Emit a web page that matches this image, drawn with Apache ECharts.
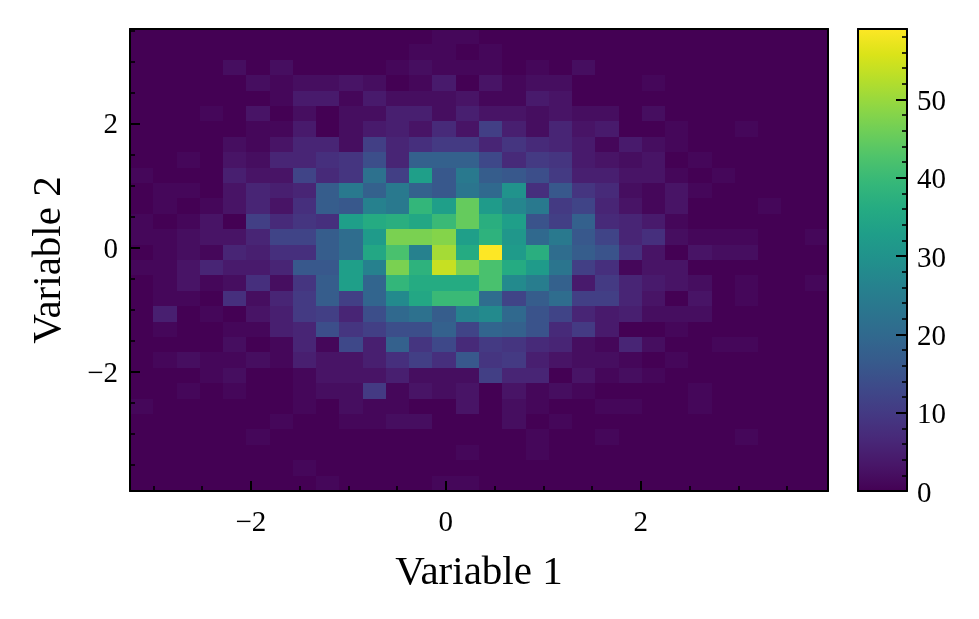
<!DOCTYPE html>
<html><head><meta charset="utf-8">
<script src="https://cdn.jsdelivr.net/npm/echarts@6/dist/echarts.min.js"></script>
<style>html,body{margin:0;padding:0;background:#fff}#c{width:979px;height:619px}</style>
</head><body><div id="c"></div>
<script>
const xTitle = 'Variable 1', yTitle = 'Variable 2';
const xRange = [-3.24, 3.92], yRange = [-3.92, 3.53];
const xMajor = [-2, 0, 2], yMajor = [-2, 0, 2];
const xMinor = [-3,-2.5,-1.5,-1,-0.5,0.5,1,1.5,2.5,3,3.5];
const yMinor = [-3.5,-3,-2.5,-1.5,-1,-0.5,0.5,1,1.5,2.5,3,3.5];
const cbMajor = [0,10,20,30,40,50];
const cbMinor = [2,4,6,8,12,14,16,18,22,24,26,28,32,34,36,38,42,44,46,48,52,54,56,58];
const cbMax = 59;
const viridis = ['#440154','#481668','#482878','#443983','#3e4989','#375a8c','#31688e','#2b758e','#26828e','#21918c','#1f9e89','#25ab82','#35b779','#4ec36b','#6ece58','#90d743','#b5de2b','#dae319','#fde725'];
// histogram counts, rows from top to bottom, columns left to right
const counts = [
[0,0,0,0,0,0,0,0,0,0,0,0,0,1,1,0,0,0,0,0,0,0,0,0,0,0,0,0,0,0],
[0,0,0,0,0,0,0,0,0,0,0,0,1,1,0,1,0,0,0,0,0,0,0,0,0,0,0,0,0,0],
[0,0,0,0,2,0,2,0,0,0,0,1,2,1,1,1,0,1,0,2,0,0,0,0,0,0,0,0,0,0],
[0,0,0,0,0,2,1,2,2,3,2,0,1,4,0,3,1,2,2,0,0,0,1,0,0,0,0,0,0,0],
[0,0,0,0,0,0,1,4,4,1,4,2,2,2,3,1,1,4,3,0,0,0,0,0,0,0,0,0,0,0],
[0,0,0,1,0,3,0,2,0,2,2,5,5,2,5,3,3,2,3,2,2,0,2,0,0,0,0,0,0,0],
[0,0,0,0,0,1,1,4,0,2,4,5,3,7,3,11,5,2,6,3,4,0,0,1,0,0,1,0,0,0],
[0,0,0,0,2,1,3,6,6,2,11,6,8,10,10,6,9,7,6,4,1,4,2,1,0,0,0,0,0,0],
[0,0,1,0,3,2,6,6,8,9,14,6,18,18,18,13,7,10,9,4,3,2,3,0,1,0,0,0,0,0],
[1,0,0,0,5,3,3,12,7,9,22,11,33,16,24,17,16,14,10,5,5,3,3,1,0,1,0,0,0,0],
[0,1,1,0,3,6,5,6,17,24,18,24,18,16,23,20,30,8,16,9,7,2,1,3,1,0,0,0,0,0],
[0,1,0,1,3,6,3,8,17,16,26,24,39,33,45,32,27,24,10,12,6,3,1,3,0,0,0,1,0,0],
[1,0,1,3,0,11,7,9,8,33,36,37,35,40,45,37,33,15,11,18,7,6,4,1,0,0,0,0,0,0],
[1,1,2,3,3,6,12,12,17,21,32,47,47,48,33,38,31,20,24,16,12,6,8,2,1,1,1,0,0,1],
[0,1,2,1,6,5,8,8,17,21,35,42,26,51,36,59,32,37,21,17,15,8,3,0,3,2,2,0,0,0],
[1,1,3,6,4,4,6,16,16,33,26,47,38,54,47,42,36,32,23,11,8,1,3,3,0,0,0,0,0,0],
[0,1,3,1,2,8,2,9,17,33,19,39,36,36,36,42,28,25,18,4,10,6,4,3,2,0,1,0,0,1],
[0,1,1,0,8,2,6,10,17,11,19,28,35,40,40,21,12,17,21,11,11,6,3,0,3,0,1,0,0,0],
[0,5,0,1,0,3,5,10,11,6,14,20,22,17,26,28,20,15,12,6,4,5,2,2,2,0,0,0,0,0],
[0,1,0,0,1,1,5,6,14,9,11,14,14,18,12,19,18,15,7,10,4,0,0,1,0,0,0,0,0,0],
[0,0,0,0,2,0,1,6,1,13,5,18,9,13,7,10,9,7,6,2,1,6,2,0,0,1,1,0,0,0],
[0,1,2,1,1,2,1,5,3,3,5,8,11,8,16,9,10,5,3,2,2,1,0,1,0,0,0,0,0,0],
[0,0,0,1,2,0,0,1,3,3,3,5,2,2,2,11,6,6,0,3,1,2,1,0,0,0,0,0,0,0],
[0,0,1,0,1,0,0,1,2,2,10,1,3,2,3,0,3,1,2,1,0,0,0,0,1,0,0,0,0,0],
[1,0,0,0,0,0,0,1,0,2,1,1,0,0,3,0,2,1,0,0,1,1,0,0,1,0,0,0,0,0],
[0,0,0,0,0,0,1,0,0,1,1,2,2,0,0,0,2,0,1,0,0,0,0,0,0,0,0,0,0,0],
[0,0,0,0,0,1,0,0,0,0,0,0,0,0,0,0,0,1,0,0,1,0,0,0,0,0,1,0,0,0],
[0,0,0,0,0,0,0,0,0,0,0,0,0,0,1,0,0,1,0,0,0,0,0,0,0,0,0,0,0,0],
[0,0,0,0,0,0,0,1,0,0,0,0,0,0,0,0,0,0,0,0,0,0,0,0,0,0,0,0,0,0],
[0,0,0,0,0,0,0,0,1,0,0,0,0,1,1,0,0,0,0,0,0,0,0,0,0,0,0,0,0,0]
];

const nRows = counts.length;
const cells = [];
counts.forEach((row, r) => row.forEach((v, c) => cells.push([c, nRows - 1 - r, v])));
const colBins = counts[0].map((_, i) => String(i));
const rowBins = counts.map((_, i) => String(i));

const FONT = '"Liberation Serif", serif';
const signed = v => String(v).replace('-', '\u2212');
const spine = {show: true, onZero: false, lineStyle: {color: '#000', width: 2}};
const noLabel = {show: false};
const tickStyle = {color: '#000', width: 1.6};
const majorStyle = {color: '#000', width: 2};

function valueAxis(range, position, gridIndex, extra) {
  return Object.assign({type: 'value', min: range[0], max: range[1], position, gridIndex,
    splitLine: {show: false}, axisLine: {show: false, onZero: false}, z: 6}, extra);
}
function spineAxis(position, gridIndex, data) {
  return {type: 'category', data, gridIndex, position, boundaryGap: true, axisLine: spine,
    axisTick: {show: false}, axisLabel: noLabel, splitLine: {show: false}, z: 6};
}
function renderCell(params, api) {
  const c = api.coord([api.value(0), api.value(1)]);
  const s = api.size([1, 1]);
  const x0 = Math.round(c[0] - s[0] / 2), x1 = Math.round(c[0] + s[0] / 2);
  const y0 = Math.round(c[1] - s[1] / 2), y1 = Math.round(c[1] + s[1] / 2);
  return {type: 'rect', shape: {x: x0, y: y0, width: x1 - x0, height: y1 - y0},
    style: {fill: api.visual('color')}};
}

const option = {
  animation: false,
  backgroundColor: '#fff',
  textStyle: {fontFamily: FONT},
  grid: [
    {left: 130, top: 29, width: 698, height: 462, show: false},
    {left: 858, top: 29, width: 49, height: 462, show: true, borderWidth: 0,
      backgroundColor: {type: 'linear', x: 0, y: 1, x2: 0, y2: 0,
        colorStops: viridis.map((color, i) => ({offset: i / (viridis.length - 1), color}))}}
  ],
  xAxis: [
    spineAxis('top', 0, colBins),
    valueAxis(xRange, 'bottom', 0, {
      axisLine: spine,
      axisTick: {show: true, inside: true, length: 10, lineStyle: majorStyle, customValues: xMajor},
      axisLabel: {show: true, customValues: xMajor, formatter: signed, color: '#000', fontFamily: FONT, fontSize: 29, margin: 18},
      name: xTitle, nameLocation: 'middle', nameGap: 62,
      nameTextStyle: {fontFamily: FONT, fontSize: 41, color: '#000'}}),
    valueAxis(xRange, 'bottom', 0, {
      axisTick: {show: true, inside: true, length: 5, lineStyle: tickStyle, customValues: xMinor},
      axisLabel: noLabel}),
    spineAxis('top', 1, ['a']),
    spineAxis('bottom', 1, ['a'])
  ],
  yAxis: [
    spineAxis('right', 0, rowBins),
    valueAxis(yRange, 'left', 0, {
      axisLine: spine,
      axisTick: {show: true, inside: true, length: 10, lineStyle: majorStyle, customValues: yMajor},
      axisLabel: {show: true, customValues: yMajor, formatter: signed, color: '#000', fontFamily: FONT, fontSize: 29, margin: 12, verticalAlign: 'top', lineHeight: 4},
      name: yTitle, nameLocation: 'middle', nameGap: 60, nameRotate: 90,
      nameTextStyle: {fontFamily: FONT, fontSize: 41, color: '#000'}}),
    valueAxis(yRange, 'left', 0, {
      axisTick: {show: true, inside: true, length: 5, lineStyle: tickStyle, customValues: yMinor},
      axisLabel: noLabel}),
    valueAxis([0, cbMax], 'right', 1, {
      axisLine: spine,
      axisTick: {show: true, inside: true, length: 11, lineStyle: majorStyle, customValues: cbMajor},
      axisLabel: {show: true, customValues: cbMajor, color: '#000', fontFamily: FONT, fontSize: 29, margin: 10, verticalAlign: 'top', lineHeight: 6}}),
    valueAxis([0, cbMax], 'right', 1, {
      axisTick: {show: true, inside: true, length: 5, lineStyle: tickStyle, customValues: cbMinor},
      axisLabel: noLabel}),
    spineAxis('left', 1, ['a'])
  ],
  visualMap: {show: false, type: 'continuous', min: 0, max: cbMax, seriesIndex: 0, dimension: 2,
    inRange: {color: viridis}},
  series: [{
    type: 'custom', xAxisIndex: 0, yAxisIndex: 0, data: cells, renderItem: renderCell,
    encode: {x: 0, y: 1}, silent: true, clip: false, z: 2
  }]
};
echarts.init(document.getElementById('c'), null, {renderer: 'canvas'}).setOption(option);
</script></body></html>
